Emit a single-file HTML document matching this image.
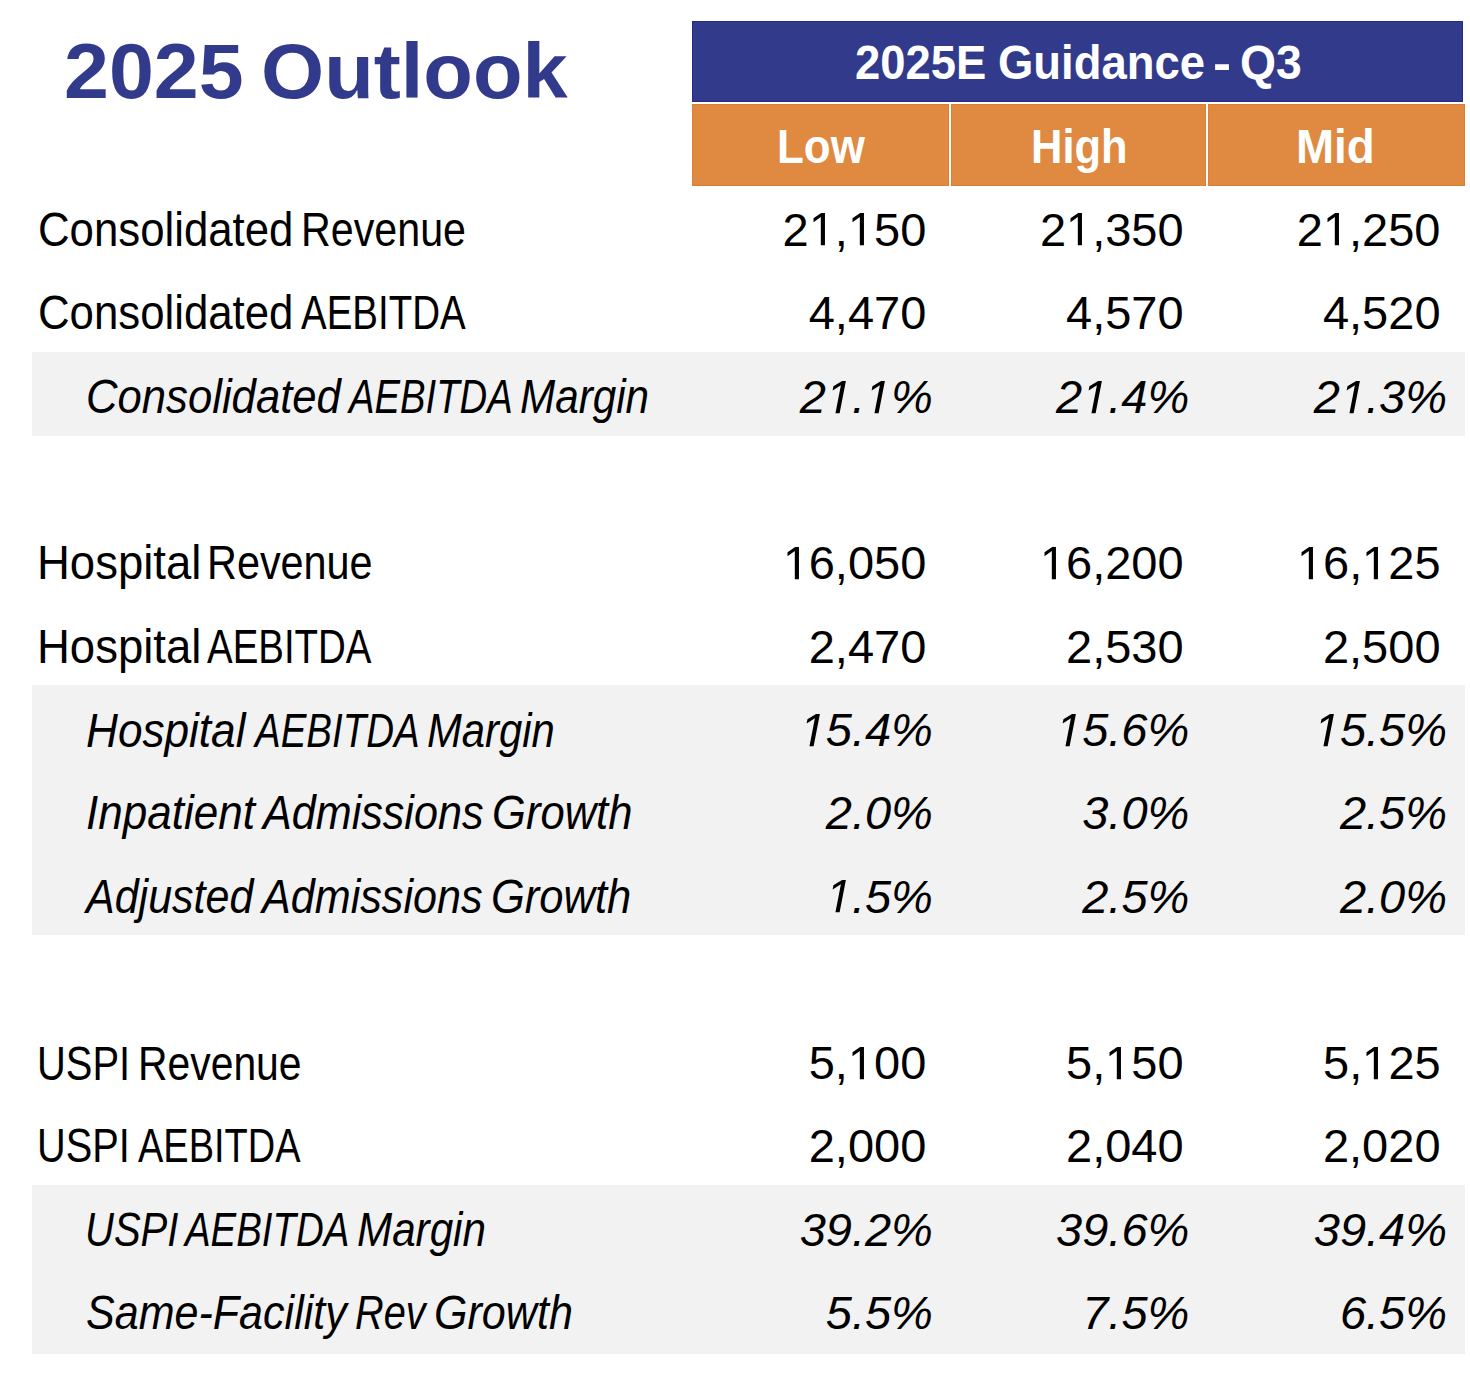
<!DOCTYPE html><html><head><meta charset="utf-8"><title>2025 Outlook</title><style>
html,body{margin:0;padding:0;background:#fff;width:1470px;height:1386px;overflow:hidden;}
.r{position:absolute;}
.one{display:inline-block;width:0.55615em;height:0.68799em;margin-top:-0.68799em;vertical-align:baseline;fill:currentColor;overflow:visible}
.t{position:absolute;white-space:nowrap;line-height:0;font-family:"Liberation Sans",sans-serif;transform-origin:0 0;color:#000;}
</style></head><body>
<div class="r" style="left:692px;top:21px;width:771px;height:81px;background:#323a8c;box-shadow:inset 0 0 0 1px #232b85"></div>
<div class="r" style="left:692px;top:104px;width:257px;height:82px;background:#e08941;box-shadow:inset 0 0 0 1px #df7d30"></div>
<div class="r" style="left:951px;top:104px;width:255px;height:82px;background:#e08941;box-shadow:inset 0 0 0 1px #df7d30"></div>
<div class="r" style="left:1208px;top:104px;width:257px;height:82px;background:#e08941;box-shadow:inset 0 0 0 1px #df7d30"></div>
<div class="r" style="left:32px;top:352px;width:1433px;height:84px;background:#f2f2f2"></div>
<div class="r" style="left:32px;top:685px;width:1433px;height:250px;background:#f2f2f2"></div>
<div class="r" style="left:32px;top:1185px;width:1433px;height:169px;background:#f2f2f2"></div>
<div class="t" style="left:63.50px;top:70.96px;font-size:78.00px;font-weight:bold;color:#323a8c;transform:scaleX(1.0353);">2025</div>
<div class="t" style="left:261.07px;top:70.96px;font-size:78.00px;font-weight:bold;color:#323a8c;transform:scaleX(1.0408);">Outlook</div>
<div class="t" style="left:854.73px;top:63.36px;font-size:48.00px;font-weight:bold;color:#fff;transform:scaleX(0.9456);">2025E</div>
<div class="t" style="left:997.74px;top:63.36px;font-size:48.00px;font-weight:bold;color:#fff;transform:scaleX(0.9465);">Guidance</div>
<div class="t" style="left:1240.30px;top:63.36px;font-size:48.00px;font-weight:bold;color:#fff;transform:scaleX(0.9647);">Q3</div>
<div class="t" style="left:1213.08px;top:64.36px;font-size:48.00px;font-weight:bold;color:#fff;transform:scaleX(1.1323);">-</div>
<div class="t" style="left:777.26px;top:147.46px;font-size:48.00px;font-weight:bold;color:#fff;transform:scaleX(0.9154);">Low</div>
<div class="t" style="left:1031.09px;top:147.46px;font-size:48.00px;font-weight:bold;color:#fff;transform:scaleX(0.9059);">High</div>
<div class="t" style="left:1296.24px;top:147.46px;font-size:48.00px;font-weight:bold;color:#fff;transform:scaleX(0.9532);">Mid</div>
<div class="t" style="left:37.78px;top:230.36px;font-size:48.00px;transform:scaleX(0.9117);">Consolidated</div>
<div class="t" style="left:301.12px;top:230.36px;font-size:48.00px;transform:scaleX(0.8588);">Revenue</div>
<div class="t" style="left:37.78px;top:313.36px;font-size:48.00px;transform:scaleX(0.9117);">Consolidated</div>
<div class="t" style="left:300.92px;top:313.36px;font-size:48.00px;transform:scaleX(0.8017);">AEBITDA</div>
<div class="t" style="left:85.99px;top:397.36px;font-size:48.00px;font-style:italic;transform:scaleX(0.9096);">Consolidated</div>
<div class="t" style="left:348.89px;top:397.36px;font-size:48.00px;font-style:italic;transform:scaleX(0.7969);">AEBITDA</div>
<div class="t" style="left:519.50px;top:397.36px;font-size:48.00px;font-style:italic;transform:scaleX(0.8800);">Margin</div>
<div class="t" style="left:37.47px;top:563.46px;font-size:48.00px;transform:scaleX(0.9479);">Hospital</div>
<div class="t" style="left:207.01px;top:563.46px;font-size:48.00px;transform:scaleX(0.8620);">Revenue</div>
<div class="t" style="left:37.47px;top:647.36px;font-size:48.00px;transform:scaleX(0.9479);">Hospital</div>
<div class="t" style="left:207.12px;top:647.36px;font-size:48.00px;transform:scaleX(0.8007);">AEBITDA</div>
<div class="t" style="left:85.94px;top:730.76px;font-size:48.00px;font-style:italic;transform:scaleX(0.9196);">Hospital</div>
<div class="t" style="left:254.70px;top:730.76px;font-size:48.00px;font-style:italic;transform:scaleX(0.8013);">AEBITDA</div>
<div class="t" style="left:427.02px;top:730.76px;font-size:48.00px;font-style:italic;transform:scaleX(0.8702);">Margin</div>
<div class="t" style="left:85.56px;top:813.36px;font-size:48.00px;font-style:italic;transform:scaleX(0.9173);">Inpatient</div>
<div class="t" style="left:263.33px;top:813.36px;font-size:48.00px;font-style:italic;transform:scaleX(0.8983);">Admissions</div>
<div class="t" style="left:492.25px;top:813.36px;font-size:48.00px;font-style:italic;transform:scaleX(0.9078);">Growth</div>
<div class="t" style="left:86.32px;top:896.96px;font-size:48.00px;font-style:italic;transform:scaleX(0.8959);">Adjusted</div>
<div class="t" style="left:261.53px;top:896.96px;font-size:48.00px;font-style:italic;transform:scaleX(0.8987);">Admissions</div>
<div class="t" style="left:490.56px;top:896.96px;font-size:48.00px;font-style:italic;transform:scaleX(0.9058);">Growth</div>
<div class="t" style="left:36.62px;top:1063.66px;font-size:48.00px;transform:scaleX(0.8306);">USPI</div>
<div class="t" style="left:138.25px;top:1063.66px;font-size:48.00px;transform:scaleX(0.8513);">Revenue</div>
<div class="t" style="left:36.93px;top:1146.36px;font-size:48.00px;transform:scaleX(0.8277);">USPI</div>
<div class="t" style="left:138.13px;top:1146.36px;font-size:48.00px;transform:scaleX(0.7910);">AEBITDA</div>
<div class="t" style="left:84.91px;top:1229.86px;font-size:48.00px;font-style:italic;transform:scaleX(0.8341);">USPI</div>
<div class="t" style="left:185.19px;top:1229.86px;font-size:48.00px;font-style:italic;transform:scaleX(0.8003);">AEBITDA</div>
<div class="t" style="left:356.70px;top:1229.86px;font-size:48.00px;font-style:italic;transform:scaleX(0.8786);">Margin</div>
<div class="t" style="left:85.78px;top:1312.86px;font-size:48.00px;font-style:italic;transform:scaleX(0.8969);">Same-Facility</div>
<div class="t" style="left:354.98px;top:1312.86px;font-size:48.00px;font-style:italic;transform:scaleX(0.8273);">Rev</div>
<div class="t" style="left:433.57px;top:1312.86px;font-size:48.00px;font-style:italic;transform:scaleX(0.8978);">Growth</div>
<div class="t" style="left:782.58px;top:229.71px;font-size:47.00px;">2<svg class="one" viewBox="0 0 1139 1409"><path d="M515 1409V172L197 399V229L530 0H696V1409Z"/></svg>,<svg class="one" viewBox="0 0 1139 1409"><path d="M515 1409V172L197 399V229L530 0H696V1409Z"/></svg>50</div>
<div class="t" style="left:1039.88px;top:229.71px;font-size:47.00px;">2<svg class="one" viewBox="0 0 1139 1409"><path d="M515 1409V172L197 399V229L530 0H696V1409Z"/></svg>,350</div>
<div class="t" style="left:1296.78px;top:229.71px;font-size:47.00px;">2<svg class="one" viewBox="0 0 1139 1409"><path d="M515 1409V172L197 399V229L530 0H696V1409Z"/></svg>,250</div>
<div class="t" style="left:808.72px;top:312.91px;font-size:47.00px;">4,470</div>
<div class="t" style="left:1066.02px;top:312.91px;font-size:47.00px;">4,570</div>
<div class="t" style="left:1322.92px;top:312.91px;font-size:47.00px;">4,520</div>
<div class="t" style="left:799.65px;top:396.91px;font-size:47.00px;font-style:italic;">2<svg class="one" viewBox="0 0 1139 1409"><path d="M412.3 1409L650 186L289 409L324 229L701 0H867L593.3 1409Z"/></svg>.<svg class="one" viewBox="0 0 1139 1409"><path d="M412.3 1409L650 186L289 409L324 229L701 0H867L593.3 1409Z"/></svg>%</div>
<div class="t" style="left:1056.05px;top:396.91px;font-size:47.00px;font-style:italic;">2<svg class="one" viewBox="0 0 1139 1409"><path d="M412.3 1409L650 186L289 409L324 229L701 0H867L593.3 1409Z"/></svg>.4%</div>
<div class="t" style="left:1313.75px;top:396.91px;font-size:47.00px;font-style:italic;">2<svg class="one" viewBox="0 0 1139 1409"><path d="M412.3 1409L650 186L289 409L324 229L701 0H867L593.3 1409Z"/></svg>.3%</div>
<div class="t" style="left:782.58px;top:563.01px;font-size:47.00px;"><svg class="one" viewBox="0 0 1139 1409"><path d="M515 1409V172L197 399V229L530 0H696V1409Z"/></svg>6,050</div>
<div class="t" style="left:1039.88px;top:563.01px;font-size:47.00px;"><svg class="one" viewBox="0 0 1139 1409"><path d="M515 1409V172L197 399V229L530 0H696V1409Z"/></svg>6,200</div>
<div class="t" style="left:1296.92px;top:563.01px;font-size:47.00px;"><svg class="one" viewBox="0 0 1139 1409"><path d="M515 1409V172L197 399V229L530 0H696V1409Z"/></svg>6,<svg class="one" viewBox="0 0 1139 1409"><path d="M515 1409V172L197 399V229L530 0H696V1409Z"/></svg>25</div>
<div class="t" style="left:808.72px;top:646.61px;font-size:47.00px;">2,470</div>
<div class="t" style="left:1066.02px;top:646.61px;font-size:47.00px;">2,530</div>
<div class="t" style="left:1322.92px;top:646.61px;font-size:47.00px;">2,500</div>
<div class="t" style="left:799.65px;top:730.01px;font-size:47.00px;font-style:italic;"><svg class="one" viewBox="0 0 1139 1409"><path d="M412.3 1409L650 186L289 409L324 229L701 0H867L593.3 1409Z"/></svg>5.4%</div>
<div class="t" style="left:1056.05px;top:730.01px;font-size:47.00px;font-style:italic;"><svg class="one" viewBox="0 0 1139 1409"><path d="M412.3 1409L650 186L289 409L324 229L701 0H867L593.3 1409Z"/></svg>5.6%</div>
<div class="t" style="left:1313.75px;top:730.01px;font-size:47.00px;font-style:italic;"><svg class="one" viewBox="0 0 1139 1409"><path d="M412.3 1409L650 186L289 409L324 229L701 0H867L593.3 1409Z"/></svg>5.5%</div>
<div class="t" style="left:825.79px;top:813.21px;font-size:47.00px;font-style:italic;">2.0%</div>
<div class="t" style="left:1082.19px;top:813.21px;font-size:47.00px;font-style:italic;">3.0%</div>
<div class="t" style="left:1339.89px;top:813.21px;font-size:47.00px;font-style:italic;">2.5%</div>
<div class="t" style="left:825.79px;top:896.51px;font-size:47.00px;font-style:italic;"><svg class="one" viewBox="0 0 1139 1409"><path d="M412.3 1409L650 186L289 409L324 229L701 0H867L593.3 1409Z"/></svg>.5%</div>
<div class="t" style="left:1082.19px;top:896.51px;font-size:47.00px;font-style:italic;">2.5%</div>
<div class="t" style="left:1339.89px;top:896.51px;font-size:47.00px;font-style:italic;">2.0%</div>
<div class="t" style="left:808.72px;top:1062.91px;font-size:47.00px;">5,<svg class="one" viewBox="0 0 1139 1409"><path d="M515 1409V172L197 399V229L530 0H696V1409Z"/></svg>00</div>
<div class="t" style="left:1066.02px;top:1062.91px;font-size:47.00px;">5,<svg class="one" viewBox="0 0 1139 1409"><path d="M515 1409V172L197 399V229L530 0H696V1409Z"/></svg>50</div>
<div class="t" style="left:1323.06px;top:1062.91px;font-size:47.00px;">5,<svg class="one" viewBox="0 0 1139 1409"><path d="M515 1409V172L197 399V229L530 0H696V1409Z"/></svg>25</div>
<div class="t" style="left:808.72px;top:1146.41px;font-size:47.00px;">2,000</div>
<div class="t" style="left:1066.02px;top:1146.41px;font-size:47.00px;">2,040</div>
<div class="t" style="left:1322.92px;top:1146.41px;font-size:47.00px;">2,020</div>
<div class="t" style="left:799.65px;top:1229.71px;font-size:47.00px;font-style:italic;">39.2%</div>
<div class="t" style="left:1056.05px;top:1229.71px;font-size:47.00px;font-style:italic;">39.6%</div>
<div class="t" style="left:1313.75px;top:1229.71px;font-size:47.00px;font-style:italic;">39.4%</div>
<div class="t" style="left:825.79px;top:1312.71px;font-size:47.00px;font-style:italic;">5.5%</div>
<div class="t" style="left:1082.19px;top:1312.71px;font-size:47.00px;font-style:italic;">7.5%</div>
<div class="t" style="left:1339.89px;top:1312.71px;font-size:47.00px;font-style:italic;">6.5%</div>
</body></html>
